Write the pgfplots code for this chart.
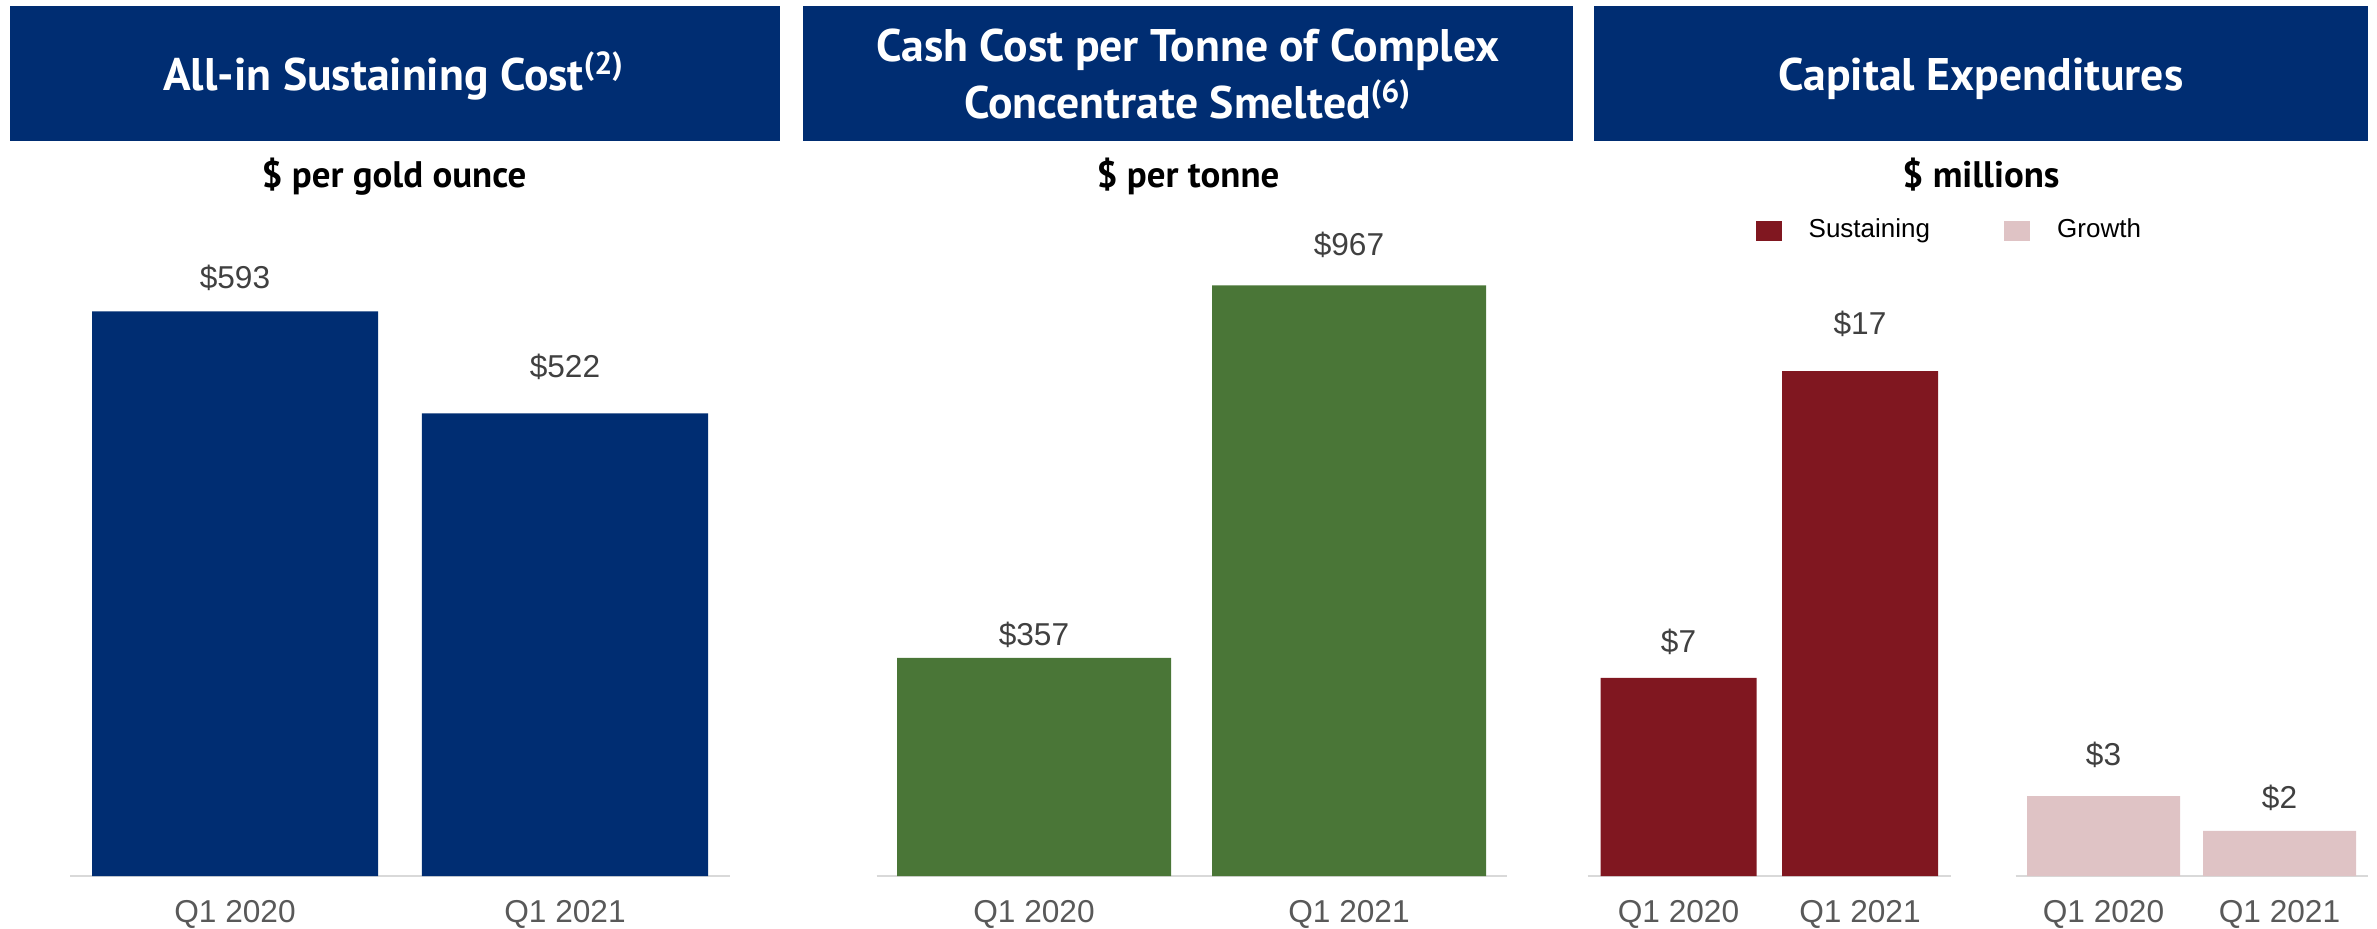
\documentclass[border=0pt]{standalone}
\usepackage{pgfplots}
\pgfplotsset{compat=1.18}
\usepackage{pgfplotstable}
\usepackage{fontspec}
\setmainfont{Liberation Sans}
\newfontfamily\hdr{PT Sans}

\definecolor{navy}{HTML}{002D72}
\definecolor{leaf}{HTML}{4A7637}
\definecolor{wine}{HTML}{801720}
\definecolor{blush}{HTML}{DFC3C5}
\definecolor{basegray}{HTML}{D9D9D9}
\definecolor{tickgray}{HTML}{595959}
\definecolor{labgray}{HTML}{404040}

% x = category, y = bar height, lab = printed label, dy = label gap (mm)
\pgfplotstableread{
x y lab dy
0 593 593 2.26
1 522 522 3.6
}\aisc
\pgfplotstableread{
x y lab dy
0 357 357 1.2
1 967 967 3.0
}\cashcost
\pgfplotstableread{
x y lab dy
0 6.67 7 2.5
1 17.0 17 3.7
}\sustaining
\pgfplotstableread{
x y lab dy
0 2.69 3 3.1
1 1.52 2 2.2
}\growth

\pgfplotsset{
  panel/.style={
    scale only axis, height=6.4cm, ybar, anchor=south west,
    xmin=-0.5, xmax=1.5, xtick={0,1}, xticklabels={Q1 2020, Q1 2021},
    ytick=\empty, axis x line*=bottom, axis y line=none,
    x axis line style={-, draw=basegray, line width=0.6pt},
    major tick length=0pt,
    xticklabel style={font=\fontsize{9}{10}\selectfont, text=tickgray, anchor=base, yshift=-0.46cm},
    point meta=explicit symbolic,
    nodes near coords={\$\pgfplotspointmeta},
    visualization depends on={\thisrow{dy}\as\dy},
    every node near coord/.append style={font=\fontsize{9}{10}\selectfont, text=labgray, anchor=base, yshift=\dy mm},
  }
}

\begin{document}
\begin{tikzpicture}
\useasboundingbox (0,0) rectangle (23.77,-9.29);

% header bands
\fill[navy] (0.10,-0.06) rectangle (7.80,-1.41);
\fill[navy] (8.03,-0.06) rectangle (15.73,-1.41);
\fill[navy] (15.94,-0.06) rectangle (23.68,-1.41);
\begin{scope}[every node/.style={text=white, anchor=base, font=\hdr\bfseries\fontsize{13}{15}\selectfont}]
\node at (3.94,-0.90) {All-in Sustaining Cost\textsuperscript{(2)}};
\node at (11.88,-0.61) {Cash Cost per Tonne of Complex};
\node at (11.88,-1.18) {Concentrate Smelted\textsuperscript{(6)}};
\node at (19.81,-0.90) {Capital Expenditures};
\end{scope}
\begin{scope}[every node/.style={text=black, anchor=base, font=\hdr\bfseries\fontsize{10.5}{12}\selectfont}]
\node at (3.94,-1.87) {\$ per gold ounce};
\node at (11.88,-1.87) {\$ per tonne};
\node at (19.81,-1.87) {\$ millions};
\end{scope}

\begin{axis}[panel, at={(0.70cm,-8.76cm)}, width=6.60cm, bar width=2.86cm, ymin=200, ymax=645.5]
\addplot[fill=navy, draw=none] table[x=x, y=y, meta=lab] {\aisc};
\end{axis}

\begin{axis}[panel, at={(8.765cm,-8.76cm)}, width=6.30cm, bar width=2.74cm, ymin=0, ymax=1048]
\addplot[fill=leaf, draw=none] table[x=x, y=y, meta=lab] {\cashcost};
\end{axis}

\begin{axis}[panel, at={(15.8775cm,-8.76cm)}, width=3.63cm, bar width=1.56cm, ymin=0, ymax=21.55,
  legend columns=2,
  legend style={at={(axis description cs:1.003,1.008)}, anchor=center, draw=none, fill=none,
    font=\fontsize{7.4}{9}\selectfont, text=black,
    /tikz/every even column/.append style={column sep=0.67cm}},
  legend image code/.code={\fill[#1] (0cm,-0.1cm) rectangle (0.26cm,0.1cm); \path (0.46cm,0cm);}]
\addplot[fill=wine, draw=none] table[x=x, y=y, meta=lab] {\sustaining};
\addlegendentry{Sustaining}
\addlegendimage{fill=blush, draw=none}
\addlegendentry{Growth}
\end{axis}

\begin{axis}[panel, at={(20.155cm,-8.76cm)}, width=3.52cm, bar width=1.53cm, ymin=0, ymax=21.55]
\addplot[fill=blush, draw=none] table[x=x, y=y, meta=lab] {\growth};
\end{axis}
\end{tikzpicture}
\end{document}
